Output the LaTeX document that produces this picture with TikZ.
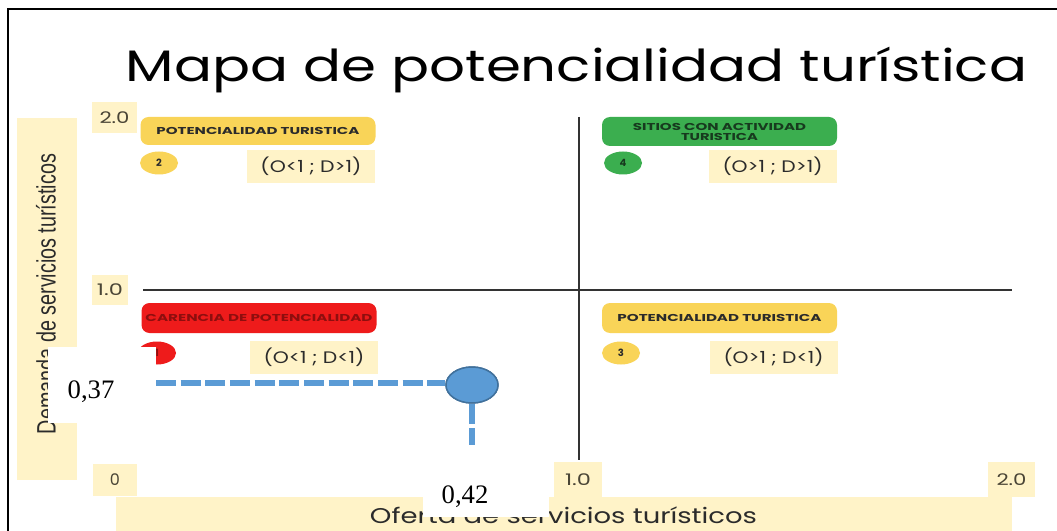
\documentclass[tikz,border=0pt]{standalone}
\usepackage{fontspec}
\setmainfont{Poppins}
\newfontfamily\arialf{Liberation Sans}
\newfontfamily\timesf{Liberation Serif}
\usepackage{graphicx}
\usetikzlibrary{shapes.geometric}
\newcommand\fitw[2]{\resizebox{#1}{\height}{#2}}
\definecolor{paleY}{HTML}{FFF3C8}
\definecolor{barY}{HTML}{F9D458}
\definecolor{barG}{HTML}{3BAE4F}
\definecolor{barR}{HTML}{EE1B1B}
\definecolor{txtR}{HTML}{8E0E0E}
\definecolor{txtDark}{HTML}{2B2B2B}
\definecolor{txtG}{HTML}{173A1E}
\definecolor{tickTxt}{HTML}{4A4536}
\definecolor{blueF}{HTML}{5B9BD5}
\definecolor{blueD}{HTML}{41719C}
\definecolor{axisC}{HTML}{333333}
\begin{document}
\begin{tikzpicture}[x=0.75pt,y=-0.75pt,
  pale/.style={rectangle,fill=paleY,draw=none,inner sep=0pt},
  bar/.style={rectangle,rounded corners=6pt,draw=none,inner sep=0pt,minimum width=176.25pt,font=\bfseries\fontsize{7.5pt}{9pt}\selectfont,align=center},
  badge/.style={ellipse,draw=none,inner sep=0pt,minimum width=28.5pt,minimum height=17.25pt,font=\bfseries\fontsize{7.5pt}{8pt}\selectfont},
  cond/.style={pale,minimum width=96pt,minimum height=24.75pt,text=txtDark,font=\fontsize{12.5pt}{14pt}\selectfont},
  tick/.style={pale,text=tickTxt,font=\fontsize{12pt}{14pt}\selectfont},
  lbl/.style={inner sep=0pt,text=txtDark},
  whitebox/.style={rectangle,fill=white,draw=none,inner sep=0pt},
  axis/.style={draw=axisC,line width=1.4pt},
  border/.style={draw=black,line width=1.8pt},
  dashblue/.style={draw=blueF,line width=4pt,dash pattern=on 15pt off 3.5pt}
]
\useasboundingbox (0,0) rectangle (1057,531);
\fill[white] (0,0) rectangle (1057,531);

% title
\node[anchor=base,inner sep=0pt,text=black] (title) at (576.5,82)
  {\fontsize{33pt}{38pt}\selectfont\fitw{675.75pt}{Mapa de potencialidad turística}};

% axis label boxes
\node[pale,minimum width=45pt,minimum height=271.5pt] (ybox) at (47,299) {};
\node[pale,minimum width=672pt,minimum height=25.5pt] (xbox) at (564,514) {};
\node[lbl,rotate=90,anchor=base,text=txtDark] (ylab) at (55.5,294)
  {\arialf\fontsize{20pt}{22pt}\selectfont\fitw{210pt}{Demanda de servicios turísticos}};
\node[lbl,anchor=base] (xlab) at (563.5,523)
  {\fontsize{16pt}{18pt}\selectfont\fitw{290.25pt}{Oferta de servicios turísticos}};

% tick boxes
\node[tick,minimum width=33.75pt,minimum height=23.25pt] (t20L) at (114.5,117.5) {\fitw{22.5pt}{2.0}};
\node[tick,minimum width=27pt,minimum height=22.5pt] (t10L) at (110,290) {\fitw{19.5pt}{1.0}};
\node[tick,minimum width=33pt,minimum height=24pt] (t0B) at (115,480) {0};
\node[tick,minimum width=36pt,minimum height=27pt] (t10B) at (578,480) {\fitw{19.5pt}{1.0}};
\node[tick,minimum width=35.25pt,minimum height=26.25pt] (t20B) at (1011.5,479.5) {\fitw{22.5pt}{2.0}};

% axes
\coordinate (hL) at (143,290);
\coordinate (hR) at (1012,290);
\coordinate (vT) at (579,117);
\coordinate (vB) at (579,460);
\draw[axis] (hL) -- (hR);
\draw[axis] (vT) -- (vB);

% quadrant top-left
\node[bar,fill=barY,minimum height=21pt,text=txtDark] (barTL) at (258,131)
  {\fitw{152.25pt}{POTENCIALIDAD TURISTICA}};
\node[badge,fill=barY,text=txtDark] (bd2) at (159,163) {2};
\node[cond] (cTL) at (311,166.5) {\fitw{75.75pt}{(O<1 ; D>1)}};

% quadrant top-right
\node[bar,fill=barG,minimum height=21.75pt,text=txtG] (barTR) at (719.5,131.5)
  {\fitw{129.75pt}{SITIOS CON ACTIVIDAD}\\[-1.5pt]\fitw{57.75pt}{TURISTICA}};
\node[badge,fill=barG,text=txtG] (bd4) at (623,163) {4};
\node[cond] (cTR) at (772.5,166.5) {\fitw{75pt}{(O>1 ; D>1)}};

% quadrant bottom-left
\node[bar,fill=barR,minimum height=22.5pt,text=txtR] (barBL) at (259,318)
  {\fitw{170.25pt}{CARENCIA DE POTENCIALIDAD}};
\node[badge,fill=barR,text=txtR] (bd1) at (157,353) {1};
\node[cond] (cBL) at (314,357) {\fitw{75.75pt}{(O<1 ; D<1)}};

% quadrant bottom-right
\node[bar,fill=barY,minimum height=22.5pt,text=txtDark] (barBR) at (719.5,318)
  {\fitw{153pt}{POTENCIALIDAD TURISTICA}};
\node[badge,fill=barY,text=txtDark] (bd3) at (621,353) {3};
\node[cond] (cBR) at (773.5,357.5) {\fitw{75pt}{(O>1 ; D<1)}};

% border
\coordinate (bTL) at (8,9);
\coordinate (bTR) at (1057,9);
\coordinate (bBL) at (8,531);
\draw[border] (bBL) -- (bTL) -- (bTR);

% overlay: point estimate
\node[whitebox,minimum width=81pt,minimum height=57pt] (w37) at (102,385) {};
\node[whitebox,minimum width=94.5pt,minimum height=35.25pt] (w42) at (486,493.5) {};
\node[inner sep=0pt,anchor=base,text=black] (v37) at (91,398) {\timesf\fontsize{20pt}{22pt}\selectfont 0,37};
\node[inner sep=0pt,anchor=base,text=black] (v42) at (465,503) {\timesf\fontsize{20pt}{22pt}\selectfont 0,42};

\node[ellipse,fill=blueF,draw=blueD,line width=1.1pt,minimum width=39pt,minimum height=27pt,inner sep=0pt] (dot) at (472,385) {};
\coordinate (hs) at (156,383);
\coordinate (ve) at (472,445);
\draw[dashblue] (hs) -- (hs -| dot.west);
\draw[dashblue] (dot.south) -- (ve);
\node[ellipse,fill=blueF,draw=blueD,line width=1.1pt,minimum width=39pt,minimum height=27pt,inner sep=0pt] (dotTop) at (dot.center) {};
\end{tikzpicture}
\end{document}
